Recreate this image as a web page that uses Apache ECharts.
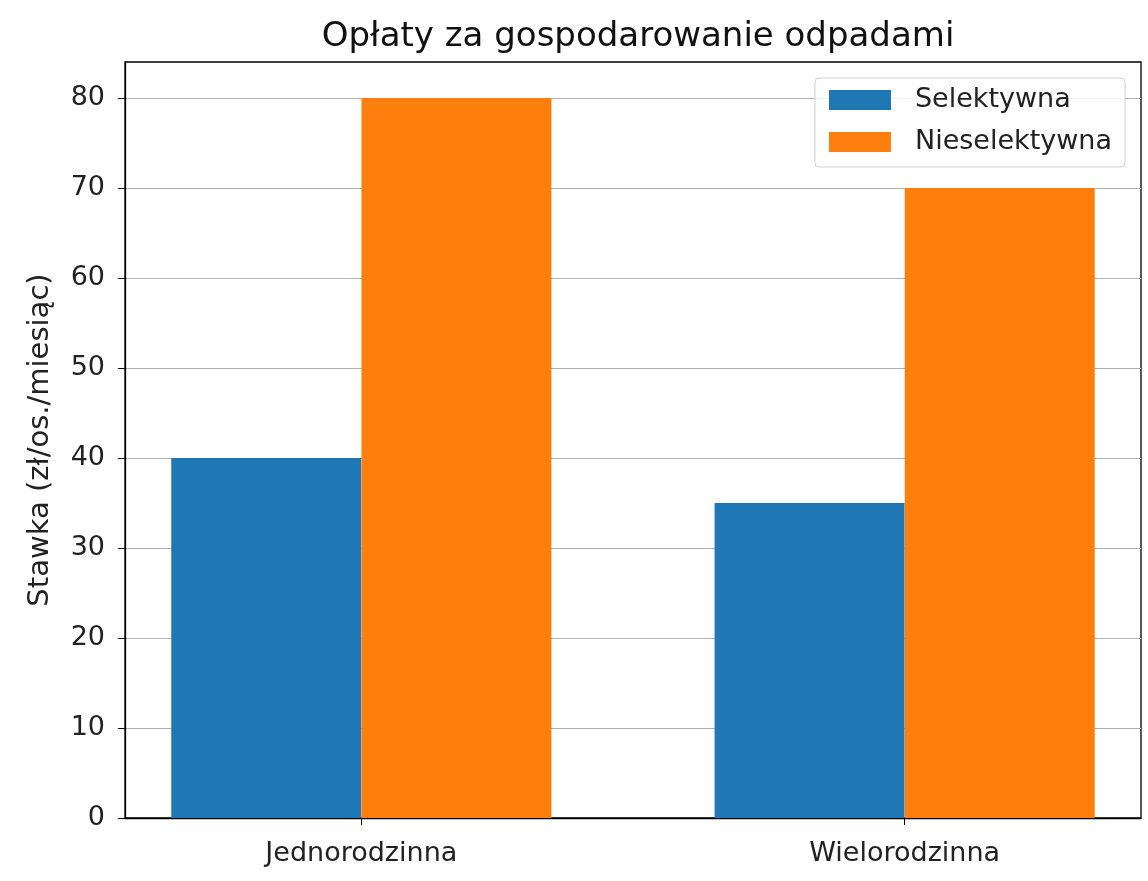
<!DOCTYPE html>
<html>
<head>
<meta charset="utf-8">
<title>Opłaty za gospodarowanie odpadami</title>
<script src="https://cdn.jsdelivr.net/npm/echarts@6/dist/echarts.min.js"></script>
<style>
	html, body { margin: 0; padding: 0; background: #fff; }
	#main { width: 1148px; height: 881px; }
</style>
</head>
<body>
<div id="main"></div>
<script type="text/javascript">
	// kategorie i wartości
	var categories = ['Jednorodzinna', 'Wielorodzinna'];
	var seriesNames = ['Selektywna', 'Nieselektywna'];
	var selektywna = [40, 35];
	var nieselektywna = [80, 70];
	var yTicks = [0, 10, 20, 30, 40, 50, 60, 70, 80];

	// przesunięcie słupków względem środka kategorii (jak w matplotlib, szerokość 0.35)
	var barHalf = 0.175;
	function toPoints(values, shift) {
		var out = [];
		for (var i = 0; i < values.length; i++) {
			out.push([i + shift, values[i]]);
		}
		return out;
	}
	var catIdx = [];
	for (var i = 0; i < categories.length; i++) catIdx.push(i);

	var chart = echarts.init(document.getElementById('main'));
	var fontName = 'DejaVu Sans';
	var option = {
		animation: false,
		textStyle: { fontFamily: fontName },
		title: {
			text: 'Opłaty za gospodarowanie odpadami',
			left: 633,
			textAlign: 'center',
			top: 15,
			textStyle: { fontFamily: fontName, fontSize: 34, fontWeight: 'normal', color: '#111' }
		},
		legend: {
			data: seriesNames,
			orient: 'vertical',
			right: 23,
			top: 78,
			padding: [7, 13, 10, 14],
			itemWidth: 62,
			itemHeight: 20,
			itemGap: 12,
			icon: 'rect',
			borderColor: '#d0d0d0',
			borderWidth: 1,
			borderRadius: 4,
			backgroundColor: 'rgba(255,255,255,0.85)',
			textStyle: { fontFamily: fontName, fontSize: 27, lineHeight: 30, color: '#222', padding: [0, 0, 0, 19] }
		},
		grid: {
			left: 125,
			right: 7,
			top: 62,
			bottom: 63,
			show: true,
			borderColor: '#000',
			borderWidth: 1.3,
			backgroundColor: 'transparent'
		},
		xAxis: {
			type: 'value',
			min: -0.435,
			max: 1.435,
			splitLine: { show: false },
			axisLine: { show: true, onZero: false, lineStyle: { color: '#000', width: 1.3 } },
			axisTick: { show: true, customValues: catIdx, length: 7, lineStyle: { color: '#000' } },
			axisLabel: {
				customValues: catIdx,
				margin: 22,
				fontSize: 27,
				color: '#222',
				fontFamily: fontName,
				formatter: function (v) { return categories[Math.round(v)]; }
			}
		},
		yAxis: {
			type: 'value',
			min: 0,
			max: 84,
			interval: 10,
			name: 'Stawka (zł/os./miesiąc)',
			nameLocation: 'middle',
			nameGap: 70,
			nameTextStyle: { fontFamily: fontName, fontSize: 29, color: '#222' },
			axisLine: { show: true, onZero: false, lineStyle: { color: '#000', width: 1.3 } },
			axisTick: { show: true, customValues: yTicks, length: 7, lineStyle: { color: '#000' } },
			axisLabel: { customValues: yTicks, margin: 20, fontSize: 27, color: '#222', fontFamily: fontName },
			splitLine: { show: true, lineStyle: { color: '#b0b0b0', width: 1 } }
		},
		series: [
			{
				name: seriesNames[0],
				type: 'bar',
				barWidth: 190,
				barGap: '-100%',
				itemStyle: { color: '#1f77b4' },
				data: toPoints(selektywna, -barHalf)
			},
			{
				name: seriesNames[1],
				type: 'bar',
				barWidth: 190,
				barGap: '-100%',
				itemStyle: { color: '#ff7f0e' },
				data: toPoints(nieselektywna, barHalf)
			}
		]
	};
	chart.setOption(option);
</script>
</body>
</html>
